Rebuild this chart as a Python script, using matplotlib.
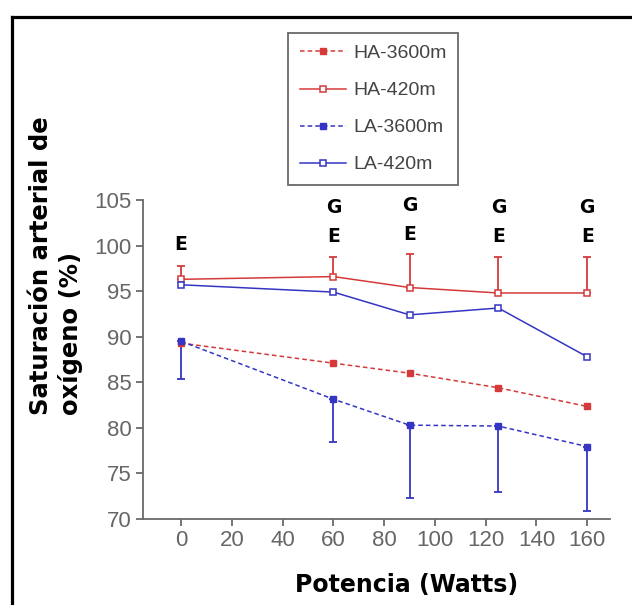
import matplotlib

matplotlib.use("Agg")

import matplotlib.pyplot as plt
from matplotlib.lines import Line2D


# power steps (Watts)
watts = [0, 60, 90, 125, 160]

# mean arterial O2 saturation (%)
ha_3600 = [89.3, 87.1, 86.0, 84.4, 82.35]
ha_420 = [96.3, 96.6, 95.4, 94.8, 94.8]
la_3600 = [89.5, 83.15, 80.3, 80.2, 77.95]
la_420 = [95.7, 94.9, 92.4, 93.15, 87.8]

# one-sided SD bars: HA-420 upwards, LA-3600 downwards
ha_420_sd = [1.5, 2.15, 3.7, 3.95, 3.95]
la_3600_sd = [4.1, 4.75, 8.0, 7.2, 7.05]

# significance marks above each step
marks_e = [0, 60, 90, 125, 160]
marks_g = [60, 90, 125, 160]
mark_e_y = [100.1, 101.0, 101.2, 101.0, 101.0]
mark_g_y = [104.2, 104.4, 104.2, 104.2]

RED = "#d43a3a"
BLUE = "#3535c4"
GREY = "#6a6a6a"


fig = plt.figure(figsize=(6.32, 6.05), dpi=100)
ax = fig.add_axes([0.2263, 0.1421, 0.7389, 0.5273])

ax.errorbar(
    watts, ha_420,
    yerr=[[0] * 5, ha_420_sd],
    fmt="none", ecolor=RED, elinewidth=1.3, capsize=3, capthick=1.3,
)
ax.errorbar(
    watts, la_3600,
    yerr=[la_3600_sd, [0] * 5],
    fmt="none", ecolor=BLUE, elinewidth=1.3, capsize=3, capthick=1.3,
)

ax.plot(
    watts, ha_3600, color=RED, lw=1.1, dashes=(3, 2),
    marker="s", ms=5, mfc=RED, mec=RED, label="HA-3600m",
)
ax.plot(
    watts, ha_420, color=RED, lw=1.1,
    marker="s", ms=5, mfc="white", mec=RED, mew=1.1, label="HA-420m",
)
ax.plot(
    watts, la_3600, color=BLUE, lw=1.1, dashes=(3, 2),
    marker="s", ms=5, mfc=BLUE, mec=BLUE, label="LA-3600m",
)
ax.plot(
    watts, la_420, color=BLUE, lw=1.1,
    marker="s", ms=5, mfc="white", mec=BLUE, mew=1.1, label="LA-420m",
)

for x, y in zip(marks_e, mark_e_y):
    ax.text(x, y, "E", ha="center", va="center",
            fontsize=13.5, fontweight="bold", family="DejaVu Sans")
for x, y in zip(marks_g, mark_g_y):
    ax.text(x, y, "G", ha="center", va="center",
            fontsize=13.5, fontweight="bold", family="DejaVu Sans")

ax.set_xlim(-15, 169)
ax.set_ylim(70, 105)
ax.set_xticks(range(0, 161, 20))
ax.set_yticks(range(70, 106, 5))

for side in ("top", "right"):
    ax.spines[side].set_visible(False)
for side in ("left", "bottom"):
    ax.spines[side].set_color(GREY)
    ax.spines[side].set_linewidth(1.3)

ax.tick_params(
    direction="out", length=5, width=1.3, color=GREY,
    labelcolor="#666666", labelsize=16, pad=3,
)
for lab in ax.get_xticklabels() + ax.get_yticklabels():
    lab.set_family("Liberation Sans")

fig.text(
    0.644, 0.033, "Potencia (Watts)", ha="center", va="center",
    fontsize=17, fontweight="bold", family="DejaVu Sans",
)

fig.text(
    0.0885, 0.314, "Saturación arterial de\noxígeno (%)",
    rotation=90, ha="center", va="bottom", multialignment="left",
    fontsize=17.5, fontweight="bold", family="DejaVu Sans",
    linespacing=1.28,
)

leg = ax.legend(
    loc="upper left", bbox_to_anchor=(0.4557, 0.9455),
    bbox_transform=fig.transFigure, borderaxespad=0,
    handlelength=2.4, labelspacing=1.0,
    borderpad=0.6, handletextpad=0.35, fancybox=False,
    prop={"family": "Liberation Sans", "size": 14},
)
leg.get_frame().set_edgecolor("#444444")
leg.get_frame().set_linewidth(1.3)
for t in leg.get_texts():
    t.set_color("#444444")

# heavy frame along the top and left edges
fig.add_artist(Line2D([0.019, 1.0], [0.972, 0.972],
                      transform=fig.transFigure, color="black", lw=2.3))
fig.add_artist(Line2D([0.019, 0.019], [0.0, 0.972],
                      transform=fig.transFigure, color="black", lw=2.3))

fig.savefig("out.png", dpi=100)
plt.close(fig)
